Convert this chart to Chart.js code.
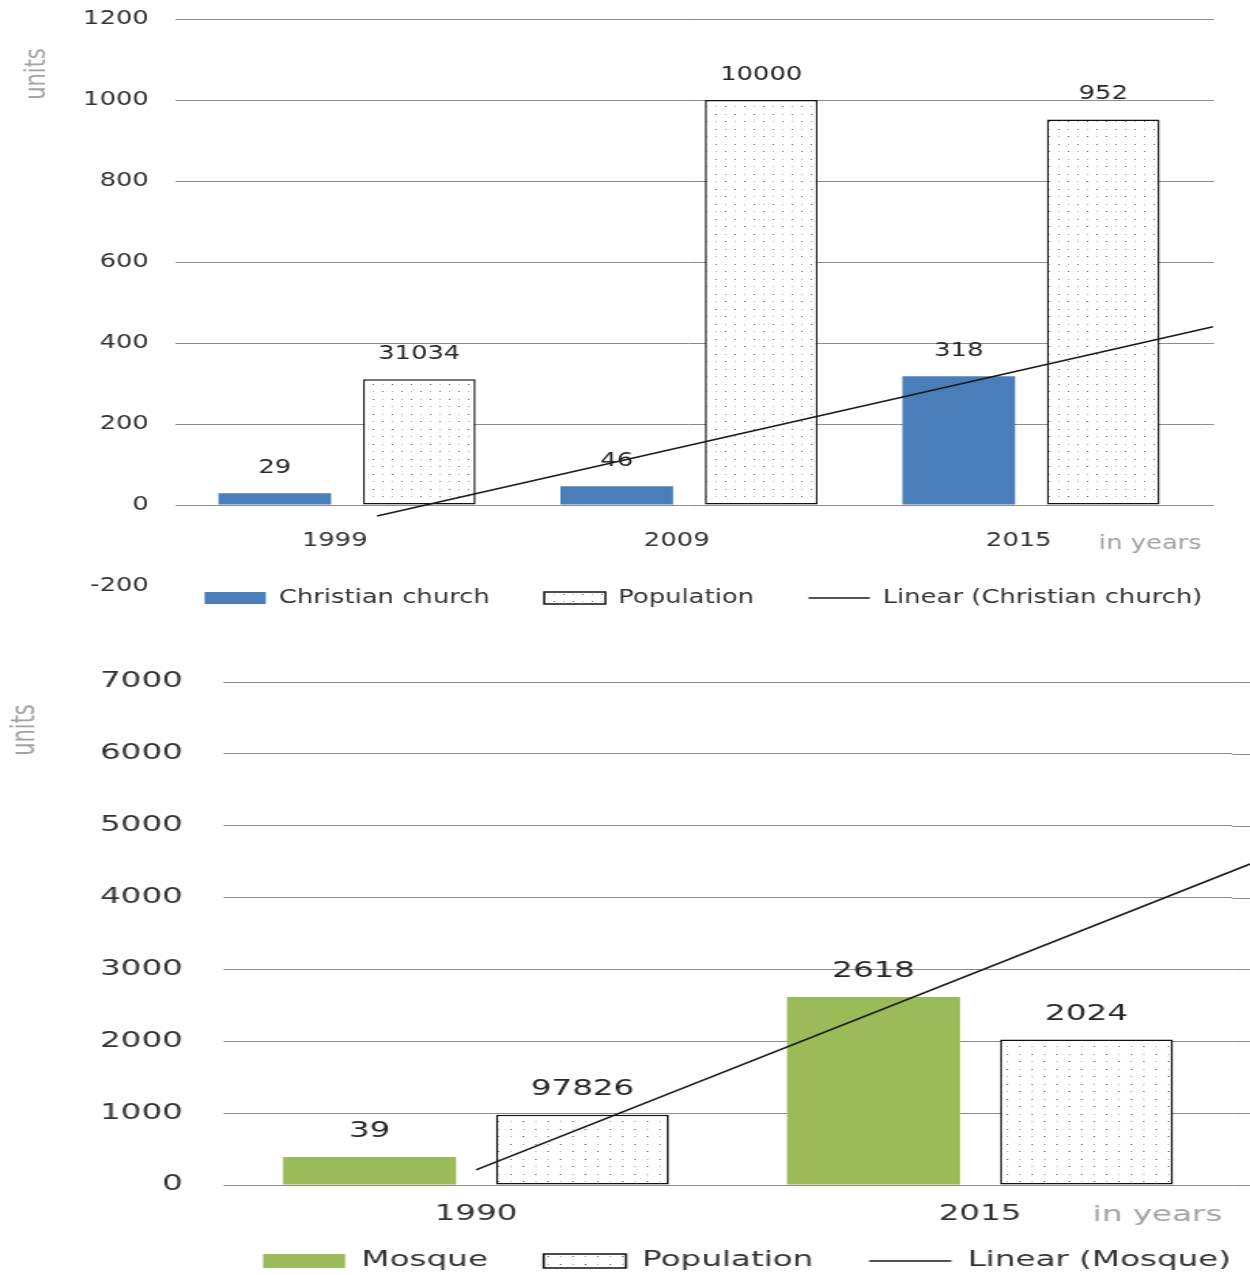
<!DOCTYPE html>
<html><head><meta charset="utf-8">
<script src="https://cdn.jsdelivr.net/npm/chart.js@4/dist/chart.umd.min.js"></script>
<style>
html,body{margin:0;padding:0;background:#fff;overflow:hidden;width:1250px;height:1275px;}
.wrap{position:absolute;left:0;transform-origin:0 0;}
#w1{top:0;width:919px;height:625px;transform:scaleX(1.3602);}
#w2{top:625px;width:806px;height:650px;transform:scaleX(1.5509);}
canvas{display:block;}
</style></head><body>
<div class="wrap" id="w1"><canvas id="c1" width="919" height="625"></canvas></div>
<div class="wrap" id="w2"><canvas id="c2" width="806" height="650"></canvas></div>
<script>
// ---------- data: chart 1 ----------
const years1 = ['1999', '2009', '2015'];
const church = [29, 46, 318];
const churchLabels = ['29', '46', '318'];
const population1 = [310.34, 1000, 952];
const population1Labels = ['31034', '10000', '952'];
const trend1X = [0.088, 2.532];
const trend1Y = [-27, 440];
const yMin1 = -200, yMax1 = 1200, yStep1 = 200;

// ---------- data: chart 2 ----------
const years2 = ['1990', '2015'];
const mosque = [390, 2618];
const mosqueLabels = ['39', '2618'];
const population2 = [978.26, 2024];
const population2Labels = ['97826', '2024'];
const trend2X = [0, 1.536];
const trend2Y = [209, 4467];
const yMin2 = 0, yMax2 = 7000, yStep2 = 1000;

const FONT = 'DejaVu Sans';
Chart.defaults.font.family = FONT;
Chart.defaults.color = '#333';

function makePattern(target, tw, th) {
  const c = document.createElement('canvas'); c.width = tw; c.height = th;
  const g = c.getContext('2d');
  g.fillStyle = '#fff'; g.fillRect(0, 0, tw, th);
  const hx = Math.round(tw / 2), hy = Math.round(th / 2);
  g.fillStyle = '#b4b4b4';
  g.fillRect(hx + 1, 1, 1, 1); g.fillRect(1, hy + 1, 1, 1);
  g.fillStyle = '#6a6a6a';
  g.fillRect(1, 1, 1, 1); g.fillRect(hx + 1, hy + 1, 1, 1);
  return target.getContext('2d').createPattern(c, 'repeat');
}

const valueLabels = {
  id: 'valueLabels',
  afterDatasetsDraw(chart, args, o) {
    const ctx = chart.ctx; ctx.save();
    ctx.font = o.size + 'px "' + FONT + '"'; ctx.fillStyle = '#262626';
    ctx.textAlign = 'center'; ctx.textBaseline = 'middle';
    chart.data.datasets.forEach((ds, di) => {
      if (!ds.valueLabels) return;
      chart.getDatasetMeta(di).data.forEach((el, i) => ctx.fillText(ds.valueLabels[i], el.x, el.y - o.offset));
    });
    ctx.restore();
  }
};

const extras = {
  id: 'extras',
  afterLayout(chart, args, o) {
    const lg = chart.legend; if (!lg) return;
    const pad = lg.options.labels.padding, w = lg.right - lg.left;
    lg.top = o.legendItemTop - pad; lg.bottom = o.legendItemTop + 34; lg.height = lg.bottom - lg.top;
    lg.left = o.legendCenter - w / 2; lg.right = lg.left + w;
  },
  beforeDatasetsDraw(chart, args, o) {
    const {ctx, chartArea} = chart; const y = chart.scales.y;
    ctx.save(); ctx.strokeStyle = o.gridColor; ctx.lineWidth = 1;
    y.ticks.forEach(t => {
      if (t.value === o.hideTick) return;
      const py = Math.round(y.getPixelForValue(t.value)) + 0.5;
      ctx.beginPath(); ctx.moveTo(chartArea.right, py); ctx.lineTo(o.gridRight, py); ctx.stroke();
    });
    ctx.restore();
  },
  afterDraw(chart, args, o) {
    const {ctx, chartArea} = chart; const y = chart.scales.y;
    ctx.save();
    ctx.fillStyle = '#a3a3a3'; ctx.textAlign = 'center'; ctx.textBaseline = 'middle';
    ctx.font = o.size + 'px "' + FONT + '"';
    ctx.fillText('in years', chartArea.right + o.yearsDx, y.getPixelForValue(0) + o.yearsDy);
    ctx.translate(o.unitsX, o.unitsY); ctx.rotate(-Math.PI / 2);
    ctx.font = o.unitsSize + 'px "' + FONT + '"';
    ctx.fillText('units', 0, 0);
    ctx.restore();
  }
};

function legendLabels(chart) {
  const items = Chart.defaults.plugins.legend.labels.generateLabels(chart);
  items.forEach(it => {
    const ds = chart.data.datasets[it.datasetIndex];
    if (ds.type === 'line') { it.pointStyle = 'line'; it.strokeStyle = '#1a1a1a'; it.lineWidth = 1.5; }
    else { it.pointStyle = 'rect'; it.lineWidth = ds.borderWidth || 0; }
  });
  return items;
}

function buildChart(canvas, cfg) {
  const pattern = makePattern(canvas, cfg.tileW, cfg.tileH);
  const toXY = arr => arr.map((v, i) => ({x: i, y: v}));
  return new Chart(canvas, {
    type: 'bar',
    data: {
      datasets: [
        { label: cfg.name, data: toXY(cfg.values), valueLabels: cfg.valueLabels, backgroundColor: cfg.color,
          borderWidth: 0, categoryPercentage: 0.845, barPercentage: cfg.barPct },
        { label: 'Population', data: toXY(cfg.pop), valueLabels: cfg.popLabels, backgroundColor: pattern,
          borderColor: '#111', borderWidth: 1.5, borderSkipped: false, categoryPercentage: 0.845, barPercentage: cfg.barPct },
        { type: 'line', label: 'Linear (' + cfg.name + ')', order: -1, clip: false,
          data: cfg.trendX.map((x, i) => ({x: x, y: cfg.trendY[i]})),
          borderColor: '#1a1a1a', backgroundColor: '#1a1a1a', borderWidth: 1.5, pointRadius: 0, fill: false, tension: 0 }
      ]
    },
    options: {
      responsive: false, animation: false, devicePixelRatio: 1,
      layout: { padding: { left: 0, right: cfg.padRight, top: cfg.padTop, bottom: cfg.padBottom } },
      scales: {
        x: {
          type: 'linear', position: { y: 0 }, min: -0.5, max: cfg.labels.length - 0.5, offset: false,
          grid: { display: false, drawTicks: false }, border: { display: false },
          afterBuildTicks(s) { s.ticks = cfg.labels.map((_, i) => ({value: i})); },
          ticks: { font: { size: cfg.size }, color: '#333', padding: cfg.xPad, labelOffset: cfg.xLabelOffset,
                   maxRotation: 0, autoSkip: false, callback: v => cfg.labels[v] },
          afterFit(s) { s.height = 0; s.paddingLeft = 0; s.paddingRight = 0; }
        },
        y: {
          min: cfg.yMin, max: cfg.yMax,
          ticks: { stepSize: cfg.yStep, font: { size: cfg.size }, color: '#333', padding: cfg.yPad, callback: v => String(v) },
          grid: { drawTicks: false, lineWidth: 1, color: c => (c.tick && c.tick.value === cfg.hideTick) ? 'rgba(0,0,0,0)' : '#8c8c8c' },
          border: { display: false },
          afterFit(s) { s.width = cfg.yWidth; s.paddingTop = 0; s.paddingBottom = 0; }
        }
      },
      plugins: {
        tooltip: { enabled: false },
        legend: {
          position: 'bottom', maxHeight: 30,
          labels: { usePointStyle: true, pointStyleWidth: cfg.boxW, boxHeight: cfg.boxH, padding: cfg.legendPad,
                    font: { size: cfg.size }, color: '#333', generateLabels: legendLabels,
                    sort: (a, b) => a.datasetIndex - b.datasetIndex }
        },
        valueLabels: { size: cfg.size, offset: 25 },
        extras: { legendItemTop: cfg.legendItemTop, legendCenter: cfg.legendCenter, gridColor: '#8c8c8c',
                  hideTick: cfg.hideTick, gridRight: cfg.gridRight, size: cfg.size, yearsDx: cfg.yearsDx, yearsDy: cfg.yearsDy,
                  unitsX: cfg.unitsX, unitsY: cfg.unitsY, unitsSize: cfg.unitsSize }
      }
    },
    plugins: [valueLabels, extras]
  });
}

const S1 = 1.3602, S2 = 1.5509;
buildChart(document.getElementById('c1'), {
  labels: years1, name: 'Christian church', values: church, valueLabels: churchLabels, color: '#4A7EBB',
  pop: population1, popLabels: population1Labels, trendX: trend1X, trendY: trend1Y,
  yMin: yMin1, yMax: yMax1, yStep: yStep1, hideTick: -200,
  size: 19, unitsSize: 21, tileW: 14, tileH: 15, barPct: 0.78,
  padTop: 19, padBottom: 625 - 586 - 30, padRight: 919 - 1202 / S1, yWidth: 176 / S1, yPad: 20,
  xPad: 24.6, xLabelOffset: -9,
  boxW: 45, boxH: 12, legendPad: 40, legendItemTop: 588.5, legendCenter: 703.5 / S1,
  gridRight: 1214 / S1, yearsDx: -38, yearsDy: 39, unitsX: 38 / S1, unitsY: 74
});
buildChart(document.getElementById('c2'), {
  labels: years2, name: 'Mosque', values: mosque, valueLabels: mosqueLabels, color: '#9BBB59',
  pop: population2, popLabels: population2Labels, trendX: trend2X, trendY: trend2Y,
  yMin: yMin2, yMax: yMax2, yStep: yStep2, hideTick: null,
  size: 21, unitsSize: 21, tileW: 16, tileH: 15, barPct: 0.813,
  padTop: 57, padBottom: 650 - 560 - 30, padRight: 806 - 1232 / S2, yWidth: 224 / S2, yPad: 26.5,
  xPad: 17.4, xLabelOffset: 0,
  boxW: 53, boxH: 14, legendPad: 36, legendItemTop: 625.5, legendCenter: 747 / S2,
  gridRight: 806, yearsDx: -48, yearsDy: 31, unitsX: 26 / S2, unitsY: 105
});
</script>
</body></html>
